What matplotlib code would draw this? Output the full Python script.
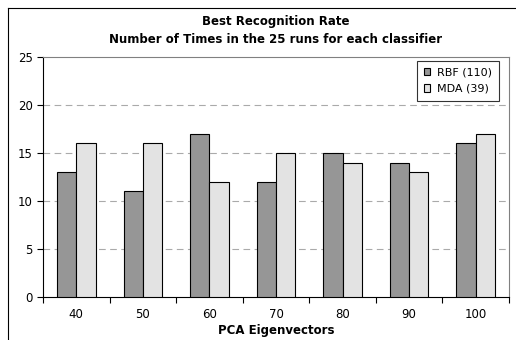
import matplotlib.pyplot as plt
import numpy as np
from matplotlib.lines import Line2D

categories = ['40', '50', '60', '70', '80', '90', '100']
rbf = [13, 11, 17, 12, 15, 14, 16]
mda = [16, 16, 12, 15, 14, 13, 17]

fig = plt.figure(figsize=(5.16, 3.40), dpi=100)
ax = fig.add_axes([43/516, 1 - 297/340, 466/516, 240/340])

x = np.arange(len(categories))
w = 0.29
ax.bar(x - w/2, rbf, w, color='#969696', edgecolor='black', linewidth=0.8, label='RBF (110)', zorder=3)
ax.bar(x + w/2, mda, w, color='#e3e3e3', edgecolor='black', linewidth=0.8, label='MDA (39)', zorder=3)

ax.set_xlim(-0.5, len(categories) - 0.5)
ax.set_ylim(0, 25)
ax.set_yticks([0, 5, 10, 15, 20, 25])
ax.set_xticks(x)
ax.set_xticklabels(categories)
ax.set_xticks(np.arange(-0.5, len(categories), 1), minor=True)
ax.tick_params(axis='x', which='major', length=0, labelsize=8.5, pad=8)
ax.tick_params(axis='x', which='minor', length=4, width=0.8)
ax.tick_params(axis='y', length=4, width=0.8, labelsize=8.5)
for y in [5, 10, 15, 20]:
    ax.axhline(y, color='#aaaaaa', linestyle=(0, (6, 4)), linewidth=0.8, zorder=1)
ax.spines['top'].set_color('#808080')
ax.spines['right'].set_color('#808080')

ax.set_title('Best Recognition Rate\nNumber of Times in the 25 runs for each classifier',
             fontsize=8.5, fontweight='bold', pad=10, linespacing=1.5)
ax.set_xlabel('PCA Eigenvectors', fontsize=8.5, fontweight='bold', labelpad=2)

leg = ax.legend(loc='upper right', bbox_to_anchor=(0.978, 0.985), fontsize=8,
                frameon=True, fancybox=False, edgecolor='black',
                handlelength=0.6, handleheight=0.6, borderpad=0.6,
                borderaxespad=0, handletextpad=0.6, labelspacing=0.6)
leg.get_frame().set_linewidth(0.8)

# outer chart border
fig.add_artist(Line2D([8/516, 8/516], [0, 1 - 8/340], color='black', linewidth=0.8))
fig.add_artist(Line2D([8/516, 1], [1 - 8/340, 1 - 8/340], color='black', linewidth=0.8))

fig.savefig('out.png', dpi=100)
